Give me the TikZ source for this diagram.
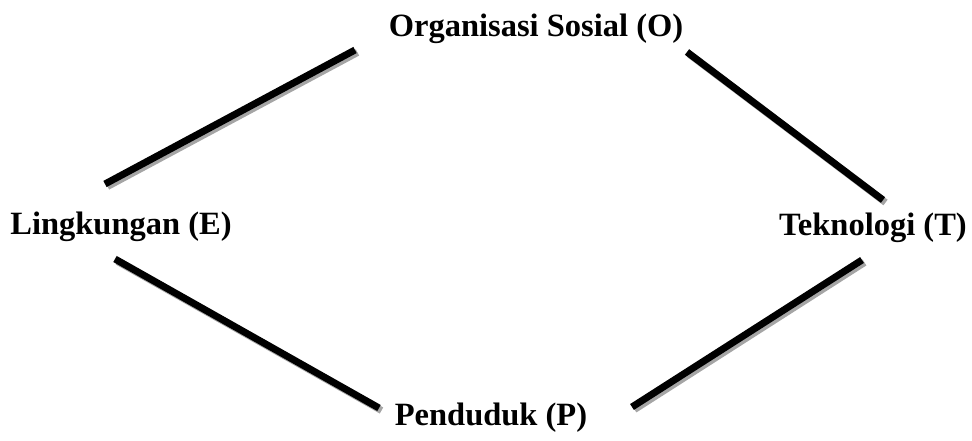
\documentclass[tikz,border=0pt]{standalone}
\usepackage{fontspec}
\setmainfont{Liberation Serif}
\usepackage{tikz}
\definecolor{shadowgray}{RGB}{165,165,165}

\begin{document}
\begin{tikzpicture}[x=1pt, y=-1pt,
				label/.style={anchor=base, font=\bfseries\fontsize{32.5}{38}\selectfont, inner sep=0pt},
				link/.style={line width=7pt, black},
				linkshadow/.style={line width=7pt, shadowgray, transform canvas={xshift=2.5pt, yshift=-2.5pt}}]
				\useasboundingbox (0,0) rectangle (972,441);
				% Begriffe
				\node[label] (O) at (536,37) {Organisasi Sosial (O)};
				\node[label] (E) at (121,234) {Lingkungan (E)};
				\node[label] (T) at (873,235) {Teknologi (T)};
				\node[label] (P) at (491,425) {Penduduk (P)};
				% Endpunkte der Verbindungen
				\coordinate (E1) at (105,184);
				\coordinate (O1) at (355,50);
				\coordinate (O2) at (687,52);
				\coordinate (T1) at (883,200);
				\coordinate (E2) at (115,259);
				\coordinate (P1) at (379,408);
				\coordinate (P2) at (632,407);
				\coordinate (T2) at (862,260);
				% Verbindungen mit Schatten
				\foreach \a/\b in {E1/O1, O2/T1, E2/P1, P2/T2}
				{
					\draw[linkshadow] (\a) -- (\b);
					\draw[link] (\a) -- (\b);
				}
			\end{tikzpicture}
\end{document}
